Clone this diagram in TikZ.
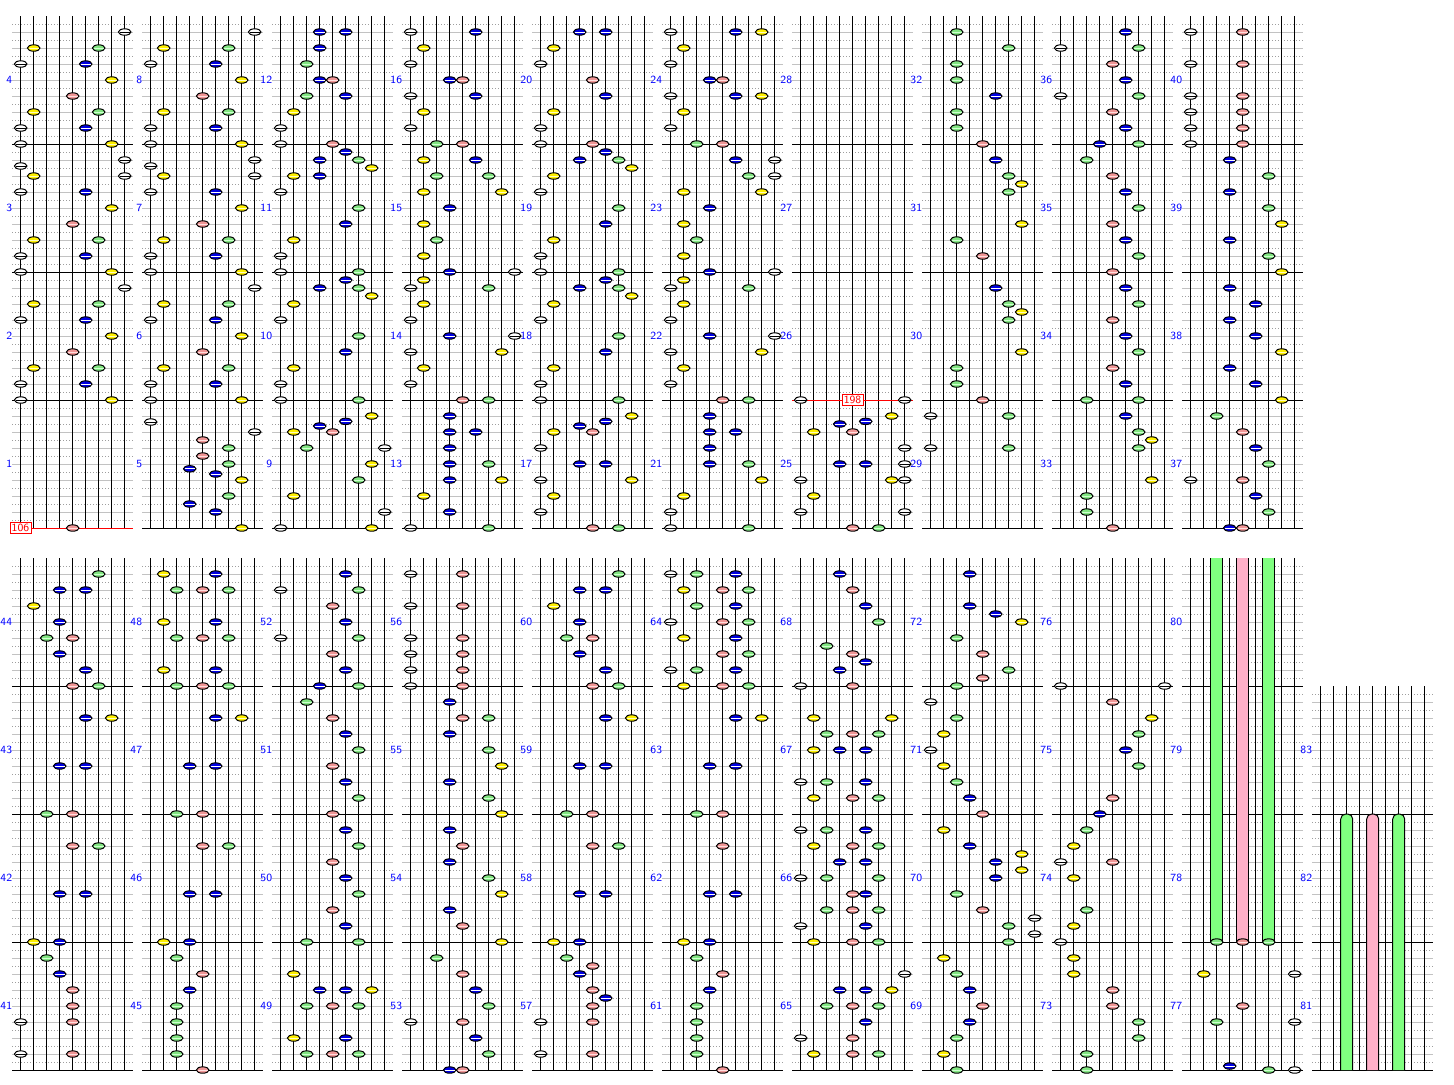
\documentclass[tikz,border=0pt]{standalone}
\usepackage{fontspec}
\definecolor{c0}{RGB}{255,255,255}
\definecolor{c1}{RGB}{255,240,0}
\definecolor{c2}{RGB}{130,230,130}
\definecolor{c3}{RGB}{0,0,225}
\definecolor{c4}{RGB}{240,150,150}
\colorlet{c5}{c3}
\colorlet{c6}{c2}
\colorlet{c7}{c1}
\colorlet{c8}{c0}
\definecolor{s0}{RGB}{0,0,0}
\definecolor{s1}{RGB}{255,255,190}
\definecolor{s2}{RGB}{205,255,205}
\definecolor{s3}{RGB}{255,255,255}
\definecolor{s4}{RGB}{255,222,222}
\colorlet{s5}{s3}
\colorlet{s6}{s2}
\colorlet{s7}{s1}
\colorlet{s8}{s0}
\definecolor{holdgreen}{RGB}{128,255,128}
\definecolor{holdpink}{RGB}{255,176,200}
\tikzset{
  subline/.style={draw=black!38,line width=0.5pt,dash pattern=on 0.5pt off 1pt},
  beatline/.style={draw=black!24,line width=0.5pt},
  barline/.style={draw=black,line width=0.5pt},
  laneline/.style={draw=black,line width=0.5pt},
  notehead/.style={draw=black,line width=0.5pt},
  stripe/.style={line width=0.5pt},
  holdbar/.style={draw=black,line width=0.5pt},
  bpmline/.style={draw=red,line width=0.5pt},
  bpmbox/.style={draw=red,fill=white,text=red,line width=0.5pt,inner sep=0.6pt,
    minimum width=10.5pt,minimum height=5.5pt,font=\sffamily\fontsize{5.5}{6}\selectfont},
  measnum/.style={text=blue,anchor=east,inner sep=0pt,font=\sffamily\fontsize{5.5}{6}\selectfont}
}
\newcommand{\chartgrid}[3]{%
  \foreach \k in {1,...,63}{%
    \ifnum\k>#3\relax
      \pgfmathtruncatemacro{\kr}{mod(\k,2)}%
      \ifnum\kr=1
        \draw[subline] (#1+12,#2+8*\k) -- (#1+133,#2+8*\k);
      \else
        \draw[beatline] (#1+12,#2+8*\k) -- (#1+133,#2+8*\k);
      \fi
    \fi}
  \foreach \k in {16,32,48,64}{%
    \ifnum\k>#3\relax \draw[barline] (#1+12,#2+8*\k) -- (#1+133,#2+8*\k);\fi}
  \foreach \l in {0,...,8}
    \draw[laneline] (#1+20.7+13*\l,#2+8*#3) -- (#1+20.7+13*\l,#2+512);
}
\newcommand{\chartnotes}[3]{%
  \foreach \l/\k in {#3}{%
    \filldraw[notehead,fill=c\l] (#1+20.7+13*\l,#2+8*\k) ellipse (6.3 and 3.2);
    \draw[stripe,draw=s\l] (#1+15.5+13*\l,#2+8*\k) -- (#1+25.9+13*\l,#2+8*\k);
  }}
\begin{document}
\begin{tikzpicture}[x=0.5pt,y=-0.5pt]
\useasboundingbox (0,0) rectangle (1454,1084);
\fill[white] (0,0) rectangle (1454,1084);

\foreach \c in {0,...,9}{\chartgrid{130*\c}{16}{0}\chartgrid{130*\c}{558}{0}}
\chartgrid{1300}{558}{16}

\foreach \c in {0,...,9}
  \foreach \s in {0,...,3}{
    \pgfmathtruncatemacro{\m}{4*\c+\s+1}
    \pgfmathtruncatemacro{\n}{4*\c+\s+41}
    \node[measnum] (m\m) at (130*\c+12.5,464-128*\s) {\m};
    \node[measnum] (m\n) at (130*\c+12.5,1006-128*\s) {\n};
  }
\foreach \s in {0,1,2}{
  \pgfmathtruncatemacro{\m}{81+\s}
  \node[measnum] (m\m) at (1312.5,1006-128*\s) {\m};
}

\draw[bpmline] (12,528) -- (133,528);
\draw[bpmline] (792,400) -- (913,400);

\foreach \x in {1216.7,1268.7}
  \filldraw[holdbar,fill=holdgreen] (\x-6,558) -- (\x-6,942) -- (\x+6,942) -- (\x+6,558);
\filldraw[holdbar,fill=holdpink] (1236.7,558) -- (1236.7,942) -- (1248.7,942) -- (1248.7,558);
\foreach \x in {1346.7,1398.7}
  \filldraw[holdbar,fill=holdgreen,rounded corners=2.5pt] (\x-6,1070) -- (\x-6,814) -- (\x+6,814) -- (\x+6,1070);
\filldraw[holdbar,fill=holdpink,rounded corners=2.5pt] (1366.7,1070) -- (1366.7,814) -- (1378.7,814) -- (1378.7,1070);

\chartnotes{0}{16}{8/2,1/4,6/4,0/6,5/6,7/8,4/10,1/12,6/12,0/14,5/14,0/16,7/16,8/18,0/18.75,1/20,8/20,0/22,5/22,7/24,4/26,1/28,6/28,0/30,5/30,0/32,7/32,8/34,1/36,6/36,0/38,5/38,7/40,4/42,1/44,6/44,0/46,5/46,0/48,7/48,4/64}
\chartnotes{130}{16}{8/2,1/4,6/4,0/6,5/6,7/8,4/10,1/12,6/12,0/14,5/14,0/16,7/16,8/18,0/18.75,1/20,8/20,0/22,5/22,7/24,4/26,1/28,6/28,0/30,5/30,0/32,7/32,8/34,1/36,6/36,0/38,5/38,7/40,4/42,1/44,6/44,0/46,5/46,0/48,7/48,0/50.75,8/52,4/53,6/54,4/55,6/56,3/56.6,5/57.25,7/58,6/60,3/61,5/62,7/64}
\chartnotes{260}{16}{3/2,5/2,3/4,2/6,3/8,4/8,2/10,5/10,1/12,0/14,0/16,4/16,5/17,3/18,6/18,7/19,1/20,3/20,0/22,6/24,5/26,1/28,0/30,0/32,6/32,5/33,3/34,6/34,7/35,1/36,0/38,6/40,5/42,1/44,0/46,0/48,6/48,7/50,5/50.67,3/51.25,1/52,4/52,2/54,8/54,7/56,6/58,1/60,8/62,0/64,7/64}
\chartnotes{390}{16}{0/2,5/2,1/4,0/6,3/8,4/8,0/10,5/10,1/12,0/14,2/16,4/16,1/18,5/18,2/20,6/20,1/22,7/22,3/24,1/26,2/28,1/30,3/32,8/32,1/33,0/34,6/34,1/36,0/38,3/40,8/40,0/42,7/42,1/44,0/46,4/48,6/48,3/50,3/52,5/52,3/54,3/56,6/56,3/58,7/58,1/60,3/62,0/64,6/64}
\chartnotes{520}{16}{3/2,5/2,1/4,0/6,4/8,5/10,1/12,0/14,0/16,4/16,5/17,3/18,6/18,7/19,1/20,0/22,6/24,5/26,1/28,0/30,0/32,6/32,5/33,3/34,6/34,7/35,1/36,0/38,6/40,5/42,1/44,0/46,0/48,6/48,7/50,5/50.67,3/51.25,1/52,4/52,0/54,3/56,5/56,0/58,7/58,1/60,0/62,4/64,6/64}
\chartnotes{650}{16}{0/2,5/2,7/2,1/4,0/6,3/8,4/8,0/10,5/10,7/10,1/12,0/14,2/16,4/16,5/18,8/18,6/20,8/20,1/22,7/22,3/24,1/26,2/28,1/30,3/32,8/32,1/33,0/34,6/34,1/36,0/38,3/40,8/40,0/42,7/42,1/44,0/46,4/48,6/48,3/50,3/52,5/52,3/54,3/56,6/56,7/58,1/60,0/62,0/64,6/64}
\chartnotes{780}{16}{0/48,8/48,7/50,5/50.67,3/51,1/52,4/52,8/54,3/56,5/56,8/56,0/58,7/58,8/58,1/60,0/62,8/62,4/64,6/64}
\chartnotes{910}{16}{2/2,6/4,2/6,2/8,5/10,2/12,2/14,4/16,5/18,6/20,7/21,6/22,7/26,2/28,4/30,5/34,6/36,7/37,6/38,7/42,2/44,2/46,4/48,0/50,6/50,0/54,6/54}
\chartnotes{1040}{16}{5/2,0/4,6/4,4/6,5/8,0/10,6/10,4/12,5/14,3/16,6/16,2/18,4/20,5/22,6/24,4/26,5/28,6/30,4/32,5/34,6/36,4/38,5/40,6/42,4/44,5/46,2/48,6/48,5/50,6/52,7/53,6/54,7/58,2/60,2/62,4/64}
\chartnotes{1170}{16}{0/2,4/2,0/6,4/6,0/10,4/10,0/12,4/12,0/14,4/14,0/16,4/16,3/18,6/20,3/22,6/24,7/26,3/28,6/30,7/32,3/34,5/36,3/38,5/40,7/42,3/44,5/46,7/48,2/50,4/52,5/54,6/56,0/58,4/58,5/60,6/62,3/64,4/64}

\chartnotes{0}{558}{6/2,3/4,5/4,1/6,3/8,2/10,4/10,3/12,5/14,4/16,6/16,5/20,7/20,3/26,5/26,2/32,4/32,4/36,6/36,3/42,5/42,1/48,3/48,2/50,3/52,4/54,4/56,0/58,4/58,0/62,4/62}
\chartnotes{130}{558}{1/2,5/2,2/4,4/4,6/4,1/8,5/8,2/10,4/10,6/10,1/14,5/14,2/16,4/16,6/16,5/20,7/20,3/26,5/26,2/32,4/32,4/36,6/36,3/42,5/42,1/48,3/48,2/50,4/52,3/54,2/56,2/58,2/60,2/62,4/64}
\chartnotes{260}{558}{5/2,0/4,6/4,4/6,5/8,0/10,6/10,4/12,5/14,3/16,6/16,2/18,4/20,5/22,6/24,4/26,5/28,6/30,4/32,5/34,6/36,4/38,5/40,6/42,4/44,5/46,2/48,6/48,1/52,3/54,5/54,7/54,2/56,4/56,6/56,1/60,5/60,2/62,4/62,6/62}
\chartnotes{390}{558}{0/2,4/2,0/6,4/6,0/10,4/10,0/12,4/12,0/14,4/14,0/16,4/16,3/18,4/20,6/20,3/22,6/24,7/26,3/28,6/30,7/32,3/34,4/36,3/38,6/40,7/42,3/44,4/46,7/48,2/50,4/52,5/54,6/56,0/58,4/58,5/60,6/62,3/64,4/64}
\chartnotes{520}{558}{6/2,3/4,5/4,1/6,3/8,2/10,4/10,3/12,5/14,4/16,6/16,5/20,7/20,3/26,5/26,2/32,4/32,4/36,6/36,3/42,5/42,1/48,3/48,2/50,4/51,3/52,4/54,5/55,4/56,0/58,4/58,0/62,4/62}
\chartnotes{650}{558}{0/2,2/2,5/2,1/4,4/4,6/4,2/6,5/6,0/8,4/8,6/8,1/10,5/10,4/12,6/12,0/14,2/14,5/14,1/16,4/16,6/16,5/20,7/20,3/26,5/26,2/32,4/32,4/36,3/42,5/42,1/48,3/48,2/50,4/52,3/54,2/56,2/58,2/60,2/62,4/64}
\chartnotes{780}{558}{3/2,4/4,5/6,6/8,2/11,4/12,5/13,3/14,0/16,4/16,1/20,7/20,2/22,4/22,6/22,1/24,3/24,5/24,0/28,2/28,5/28,1/30,4/30,6/30,0/34,2/34,5/34,1/36,4/36,6/36,3/38,5/38,0/40,2/40,6/40,4/42,5/42,2/44,4/44,6/44,0/46,5/46,1/48,4/48,6/48,8/52,3/54,5/54,7/54,2/56,4/56,6/56,5/58,0/60,4/60,1/62,4/62,6/62}
\chartnotes{910}{558}{3/2,3/6,5/7,7/8,2/10,4/12,6/14,4/15,2/16,0/18,2/20,1/22,0/24,1/26,2/28,3/30,4/32,1/34,3/36,7/37,5/38,7/39,5/40,2/42,4/44,8/45,6/46,8/47,6/48,1/50,2/52,3/54,4/56,3/58,2/60,1/62,2/64}
\chartnotes{1040}{558}{0/16,8/16,4/18,7/20,6/22,5/24,6/26,4/30,3/32,2/34,1/36,0/38,4/38,1/40,2/44,1/46,0/48,1/50,1/52,4/54,4/56,6/58,6/60,2/62,2/64}
\chartnotes{1170}{558}{2/48,4/48,6/48,1/52,8/52,4/56,2/58,8/58,3/63.5,6/64,8/64}

\node[bpmbox] (bpmA) at (20.5,528) {106};
\node[bpmbox] (bpmB) at (852.5,400) {198};
\end{tikzpicture}
\end{document}
